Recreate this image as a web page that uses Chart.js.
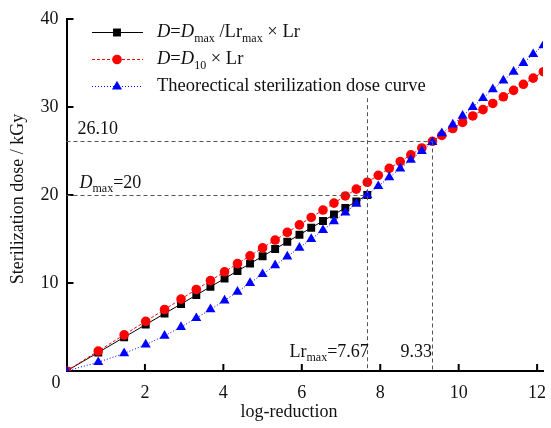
<!DOCTYPE html>
<html>
<head>
<meta charset="utf-8">
<script src="https://cdn.jsdelivr.net/npm/chart.js@4/dist/chart.umd.min.js"></script>
<style>
  html, body { margin: 0; padding: 0; background: #fff; }
  #wrap { width: 551px; height: 428px; }
</style>
</head>
<body>
<div id="wrap"><canvas id="dose-chart" width="551" height="428"></canvas></div>
<script>
  // log-reduction of each point (shared by all three series)
  const logReduction = [0, 0.81, 1.47, 2.02, 2.50, 2.92, 3.31, 3.67, 4.03, 4.36, 4.68, 5.00, 5.32,
    5.63, 5.94, 6.24, 6.54, 6.82, 7.11, 7.39, 7.67, 7.95, 8.23, 8.51, 8.78, 9.06, 9.33, 9.57, 9.85,
    10.10, 10.36, 10.62, 10.87, 11.14, 11.40, 11.65, 11.90, 12.16];

  // D = Dmax / Lrmax x Lr  (stops at Lrmax)
  const doseMaxLine = [0, 2.11, 3.83, 5.27, 6.52, 7.61, 8.63, 9.57, 10.51, 11.37, 12.20, 13.04,
    13.87, 14.68, 15.49, 16.27, 17.05, 17.78, 18.54, 19.27, 20.00];

  // D = D10 x Lr
  const doseD10Line = [0, 2.27, 4.11, 5.65, 6.99, 8.17, 9.26, 10.27, 11.27, 12.20, 13.09, 13.99,
    14.88, 15.75, 16.61, 17.45, 18.29, 19.08, 19.89, 20.67, 21.45, 22.24, 23.02, 23.80, 24.56,
    25.34, 26.10, 26.77, 27.55, 28.25, 28.98, 29.70, 30.40, 31.16, 31.89, 32.58, 33.28, 34.01];

  // theoretical sterilization dose curve
  const doseTheory = [0, 1, 2, 3, 4, 5, 6, 7, 8, 9, 10, 11, 12, 13, 14, 15, 16, 17, 18, 19, 20,
    21, 22, 23, 24, 25, 26, 27, 28, 29, 30, 31, 32, 33, 34, 35, 36, 37];

  const xTicks = [2, 4, 6, 8, 10, 12];
  const yTicks = [10, 20, 30, 40];

  const lrMax = 7.67;
  const dMax = 20;
  const lrCross = 9.33;
  const dCross = 26.10;

  const FONT = '"Liberation Serif", "Times New Roman", serif';

  function points(xs, ys) {
    return ys.map(function (y, i) { return { x: xs[i], y: y }; });
  }

  function drawRich(ctx, x, y, parts, size) {
    ctx.textBaseline = 'middle';
    ctx.textAlign = 'left';
    parts.forEach(function (p) {
      const fs = p.sub ? Math.round(size * 0.66) : size;
      ctx.font = (p.it ? 'italic ' : '') + fs + 'px ' + FONT;
      ctx.fillText(p.t, x, y + (p.sub ? size * 0.32 : 0));
      x += ctx.measureText(p.t).width;
    });
    return x;
  }

  const legendRows = [
    { color: '#000', dash: [], style: 'rect', radius: 5.6,
      parts: [{ t: 'D', it: 1 }, { t: '=' }, { t: 'D', it: 1 }, { t: 'max', sub: 1 }, { t: ' /Lr' },
        { t: 'max', sub: 1 }, { t: ' \u00d7 Lr' }] },
    { color: '#ff0000', dash: [3, 2], style: 'circle', radius: 4.8,
      parts: [{ t: 'D', it: 1 }, { t: '=' }, { t: 'D', it: 1 }, { t: '10', sub: 1 }, { t: ' \u00d7 Lr' }] },
    { color: '#0000ff', dash: [1, 2], style: 'triangle', radius: 5.8,
      parts: [{ t: 'Theorectical sterilization dose curve' }] },
  ];

  const decorPlugin = {
    id: 'decor',
    afterDatasetsDraw: function (chart) {
      const ctx = chart.ctx;
      const xs = chart.scales.x;
      const ys = chart.scales.y;
      const area = chart.chartArea;

      ctx.save();
      // inward tick marks
      ctx.strokeStyle = '#000';
      ctx.lineWidth = 2;
      ctx.setLineDash([]);
      xTicks.forEach(function (v) {
        const px = xs.getPixelForValue(v);
        ctx.beginPath();
        ctx.moveTo(px, area.bottom);
        ctx.lineTo(px, area.bottom - 7);
        ctx.stroke();
      });
      yTicks.forEach(function (v) {
        const py = ys.getPixelForValue(v);
        ctx.beginPath();
        ctx.moveTo(area.left, py);
        ctx.lineTo(area.left + 7, py);
        ctx.stroke();
      });

      // reference lines
      ctx.strokeStyle = '#555';
      ctx.lineWidth = 1;
      ctx.setLineDash([4, 3]);
      const xc = Math.round(xs.getPixelForValue(lrCross)) + 0.5;
      const yc = Math.round(ys.getPixelForValue(dCross)) + 0.5;
      const xm = Math.round(xs.getPixelForValue(lrMax)) + 0.5;
      const ym = Math.round(ys.getPixelForValue(dMax)) + 0.5;
      ctx.beginPath();
      ctx.moveTo(area.left, yc); ctx.lineTo(xc, yc);
      ctx.moveTo(xc, yc); ctx.lineTo(xc, area.bottom);
      ctx.moveTo(area.left, ym); ctx.lineTo(xm, ym);
      ctx.moveTo(xm, ys.getPixelForValue(31)); ctx.lineTo(xm, area.bottom);
      ctx.stroke();
      ctx.setLineDash([]);

      // annotation texts
      ctx.fillStyle = '#111';
      ctx.textBaseline = 'middle';
      ctx.textAlign = 'left';
      ctx.font = '18px ' + FONT;
      ctx.fillText('26.10', area.left + 11, yc - 12);
      drawRich(ctx, area.left + 13, ym - 12,
        [{ t: 'D', it: 1 }, { t: 'max', sub: 1 }, { t: '=20' }], 18);
      drawRich(ctx, xm - 78, area.bottom - 19,
        [{ t: 'Lr' }, { t: 'max', sub: 1 }, { t: '=7.67' }], 18);
      ctx.font = '18px ' + FONT;
      ctx.fillText('9.33', xc - 32, area.bottom - 19);

      // shared origin label
      ctx.fillText('0', area.left - 15, area.bottom + 12);

      // axis titles
      ctx.textAlign = 'center';
      ctx.fillText('log-reduction', 289, 412);
      ctx.save();
      ctx.translate(18, 199);
      ctx.rotate(-Math.PI / 2);
      ctx.fillText('Sterilization dose / kGy', 0, 0);
      ctx.restore();

      // legend
      legendRows.forEach(function (row, i) {
        const y = 32.5 + i * 27;
        ctx.strokeStyle = row.color;
        ctx.lineWidth = 1;
        ctx.setLineDash(row.dash);
        ctx.beginPath();
        ctx.moveTo(92, y);
        ctx.lineTo(143, y);
        ctx.stroke();
        ctx.setLineDash([]);
        ctx.fillStyle = row.color;
        Chart.helpers.drawPoint(ctx, { pointStyle: row.style, radius: row.radius, rotation: 0, borderWidth: 0 }, 117, y);
        ctx.fillStyle = '#111';
        drawRich(ctx, 157, y, row.parts, 18.5);
      });
      ctx.restore();
    },
  };

  const ctx = document.getElementById('dose-chart').getContext('2d');
  new Chart(ctx, {
    type: 'scatter',
    data: {
      datasets: [
        {
          label: 'D=Dmax/Lrmax x Lr',
          data: points(logReduction, doseMaxLine),
          showLine: true,
          borderColor: '#000',
          backgroundColor: '#000',
          borderWidth: 1,
          pointStyle: 'rect',
          pointRadius: 5.6,
          pointBorderWidth: 0,
          order: 3,
        },
        {
          label: 'D=D10 x Lr',
          data: points(logReduction, doseD10Line),
          showLine: true,
          borderColor: '#ff0000',
          backgroundColor: '#ff0000',
          borderWidth: 1,
          borderDash: [3, 2],
          pointStyle: 'circle',
          pointRadius: 4.8,
          pointBorderWidth: 0,
          order: 2,
        },
        {
          label: 'Theorectical sterilization dose curve',
          data: points(logReduction, doseTheory),
          showLine: true,
          borderColor: '#0000ff',
          backgroundColor: '#0000ff',
          borderWidth: 1,
          borderDash: [1, 2],
          pointStyle: 'triangle',
          pointRadius: 5.8,
          pointBorderWidth: 0,
          order: 1,
        },
      ],
    },
    options: {
      responsive: false,
      animation: false,
      devicePixelRatio: 1,
      layout: { padding: { left: 0, right: 8, top: 19, bottom: 0 } },
      plugins: {
        legend: { display: false },
        tooltip: { enabled: false },
      },
      elements: { line: { tension: 0 } },
      scales: {
        x: {
          type: 'linear',
          min: 0,
          max: 12.15,
          clip: false,
          afterBuildTicks: function (scale) {
            scale.ticks = xTicks.map(function (v) { return { value: v }; });
          },
          afterFit: function (scale) {
            scale.height = 57;
            scale.paddingLeft = 0;
            scale.paddingRight = 0;
          },
          ticks: {
            color: '#111',
            padding: 11,
            maxRotation: 0,
            font: { family: FONT, size: 18 },
          },
          grid: { display: false, drawTicks: false },
          border: { display: true, color: '#000', width: 2 },
        },
        y: {
          type: 'linear',
          min: 0,
          max: 40,
          afterBuildTicks: function (scale) {
            scale.ticks = yTicks.map(function (v) { return { value: v }; });
          },
          afterFit: function (scale) { scale.width = 66.5; },
          ticks: {
            color: '#111',
            padding: 8,
            font: { family: FONT, size: 18 },
          },
          grid: { display: false, drawTicks: false },
          border: { display: true, color: '#000', width: 2 },
        },
      },
    },
    plugins: [decorPlugin],
  });
</script>
</body>
</html>
